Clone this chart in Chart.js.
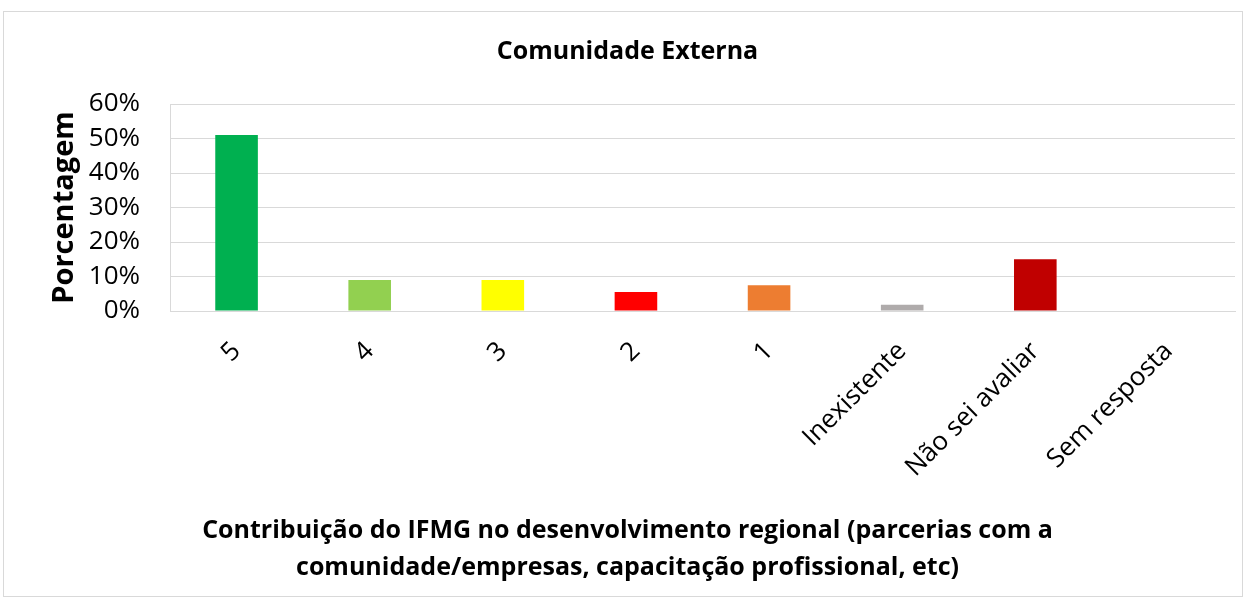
<!DOCTYPE html>
<html>
<head>
<meta charset="utf-8">
<script src="https://cdn.jsdelivr.net/npm/chart.js@4"></script>
<style>
  body { margin: 0; background: #fff; }
  #wrap { width: 1249px; height: 600px; }
</style>
</head>
<body>
<div id="wrap"><canvas id="myChart" width="1249" height="600"></canvas></div>
<script>
//data
const categories = ["5", "4", "3", "2", "1", "Inexistente", "Não sei avaliar", "Sem resposta"];
const percentages = [51, 9, 9, 5.5, 7.5, 1.8, 15, 0];
const barColors = ["#00b050", "#92d050", "#ffff00", "#ff0000", "#ed7d31", "#afabab", "#c00000", "#7f7f7f"];
const yTicks = [0, 10, 20, 30, 40, 50, 60];

const fontFamily = "'Open Sans', 'Noto Sans', sans-serif";

// outer frame like the office chart area
const framePlugin = {
  id: "frame",
  beforeDraw(chart) {
    const ctx = chart.ctx;
    ctx.save();
    ctx.fillStyle = "#fff";
    ctx.fillRect(0, 0, chart.width, chart.height);
    ctx.strokeStyle = "#d9d9d9";
    ctx.lineWidth = 1;
    ctx.strokeRect(3.5, 11.5, 1239, 585);
    ctx.restore();
  }
};

//setup
const data = {
  labels: categories,
  datasets: [{
    label: "Comunidade Externa",
    data: percentages,
    backgroundColor: barColors,
    borderWidth: 0,
    barPercentage: 0.32,
    categoryPercentage: 1
  }]
};

//options block
const options = {
  responsive: false,
  animation: false,
  layout: { padding: { left: 20, right: 14, top: 11, bottom: 14 } },
  plugins: {
    legend: { display: false },
    tooltip: { enabled: false },
    title: {
      display: true,
      text: "Comunidade Externa",
      color: "#000",
      font: { family: fontFamily, size: 25, weight: "bold" },
      padding: { top: 26, bottom: 37 }
    },
    // x axis caption, centred on the whole chart like the original
    subtitle: {
      display: true,
      position: "bottom",
      text: ["Contribuição do IFMG no desenvolvimento regional (parcerias com a", "comunidade/empresas, capacitação profissional, etc)"],
      color: "#000",
      font: { family: fontFamily, size: 25, weight: "bold", lineHeight: 1.48 },
      padding: { top: 0, bottom: 0 }
    }
  },
  scales: {
    x: {
      grid: { display: false, drawTicks: false },
      border: { display: true, color: "#d9d9d9" },
      ticks: {
        color: "#000",
        font: { family: fontFamily, size: 26 },
        minRotation: 45,
        maxRotation: 45,
        padding: 25
      },
      afterFit(scale) { scale.height = 201; }
    },
    y: {
      min: 0,
      max: 60,
      afterBuildTicks(scale) { scale.ticks = yTicks.map(v => ({ value: v })); },
      grid: { color: "#d9d9d9", drawTicks: false },
      border: { display: true, color: "#d9d9d9" },
      ticks: {
        color: "#000",
        font: { family: fontFamily, size: 26 },
        padding: 30,
        callback: v => v + "%"
      },
      title: {
        display: true,
        text: "Porcentagem",
        color: "#000",
        font: { family: fontFamily, size: 29, weight: "bold" },
        padding: { top: 27, bottom: 0 }
      },
      afterFit(scale) { scale.width = 170 - 20; }
    }
  }
};

//config
const config = {
  type: "bar",
  data,
  options,
  plugins: [framePlugin]
};

//render
const myChart = new Chart(document.getElementById("myChart"), config);
</script>
</body>
</html>
